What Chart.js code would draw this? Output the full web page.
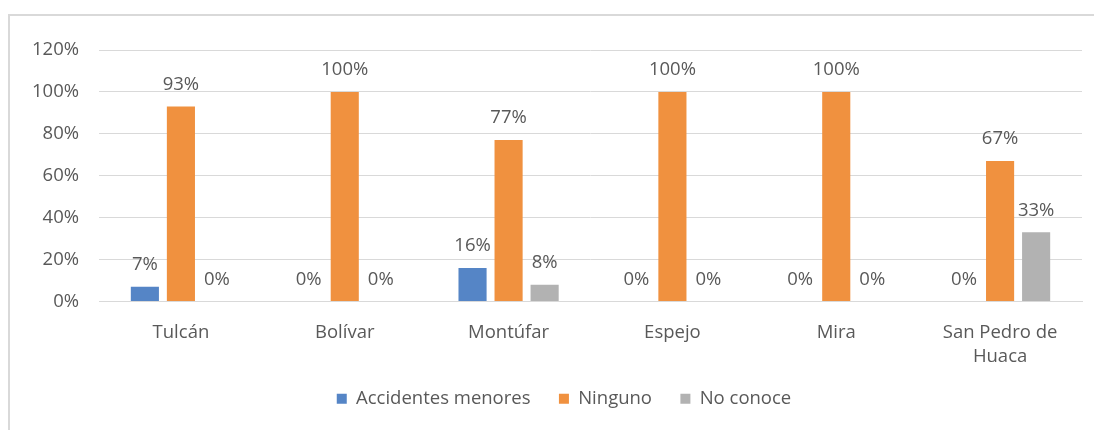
<!DOCTYPE html>
<html>
<head>
<meta charset="utf-8">
<script src="https://cdn.jsdelivr.net/npm/chart.js@4.4.1/dist/chart.umd.min.js"></script>
<style>
  html, body { margin: 0; padding: 0; background: #fff; }
  #frame {
    position: absolute; left: 8px; top: 14px; width: 1100px; height: 430px;
    border-left: 2px solid #d9d9d9; border-top: 2px solid #d9d9d9;
  }
  #wrap { position: absolute; left: 0; top: 0; width: 1094px; height: 430px; }
</style>
</head>
<body>
<div id="frame"></div>
<div id="wrap"><canvas id="chart"></canvas></div>
<script>
// categories and values (percent)
var cantones = ["Tulcán", "Bolívar", "Montúfar", "Espejo", "Mira", ["San Pedro de", "Huaca"]];
var accidentesMenores = [7, 0, 16, 0, 0, 0];
var ninguno = [93, 100, 77, 100, 100, 67];
var noConoce = [0, 0, 8, 0, 0, 33];
var yTicks = [0, 20, 40, 60, 80, 100, 120];

var textColor = "#595959";
var fontFamily = "'Open Sans', 'Noto Sans', sans-serif";
var fontSize = 18.5;

// draws the value above each bar, like the Excel data labels
var barLabels = {
  id: "barLabels",
  afterDatasetsDraw: function (chart) {
    var ctx = chart.ctx;
    ctx.save();
    ctx.font = fontSize + "px " + fontFamily;
    ctx.fillStyle = textColor;
    ctx.textAlign = "center";
    ctx.textBaseline = "middle";
    chart.data.datasets.forEach(function (ds, i) {
      var meta = chart.getDatasetMeta(i);
      meta.data.forEach(function (bar, j) {
        ctx.fillText(ds.data[j] + "%", bar.x, bar.y - 22);
      });
    });
    ctx.restore();
  }
};

// nudge the legend a bit to the right, as in the original
var legendShift = {
  id: "legendShift",
  afterLayout: function (chart) {
    if (chart.legend) {
      chart.legend.left += 23;
      chart.legend.right += 23;
    }
  }
};

var ctx = document.getElementById("chart").getContext("2d");
var chart = new Chart(ctx, {
  type: "bar",
  data: {
    labels: cantones,
    datasets: [
      { label: "Accidentes menores", data: accidentesMenores, backgroundColor: "#5585c6" },
      { label: "Ninguno", data: ninguno, backgroundColor: "#f0913f" },
      { label: "No conoce", data: noConoce, backgroundColor: "#b2b2b2" }
    ]
  },
  options: {
    responsive: true,
    maintainAspectRatio: false,
    animation: false,
    datasets: {
      bar: { categoryPercentage: 0.66, barPercentage: 0.78 }
    },
    layout: { padding: { top: 50, right: 12, left: 0, bottom: 12 } },
    plugins: {
      legend: {
        position: "bottom",
        labels: {
          boxWidth: 10,
          boxHeight: 10,
          padding: 14,
          color: textColor,
          font: { family: fontFamily, size: fontSize },
          // extra spaces widen the gap between items without a taller legend
          generateLabels: function (chart) {
            var items = Chart.defaults.plugins.legend.labels.generateLabels(chart);
            items.forEach(function (it, i) {
              if (i < items.length - 1) it.text += "   ";
            });
            return items;
          }
        }
      },
      tooltip: { enabled: false }
    },
    scales: {
      x: {
        afterFit: function (scale) { scale.height = 74; },
        grid: { display: false },
        border: { color: "#d9d9d9", width: 1 },
        ticks: {
          color: textColor,
          padding: 12,
          maxRotation: 0,
          font: { family: fontFamily, size: fontSize, lineHeight: 1.26 }
        }
      },
      y: {
        min: 0,
        max: 120,
        afterFit: function (scale) { scale.width = 99; },
        afterBuildTicks: function (scale) {
          scale.ticks = yTicks.map(function (v) { return { value: v }; });
        },
        grid: { color: "#d9d9d9", lineWidth: 1, drawTicks: false },
        border: { display: false },
        ticks: {
          color: textColor,
          padding: 20,
          font: { family: fontFamily, size: fontSize },
          callback: function (v) { return v + "%"; }
        }
      }
    }
  },
  plugins: [barLabels, legendShift]
});
</script>
</body>
</html>
